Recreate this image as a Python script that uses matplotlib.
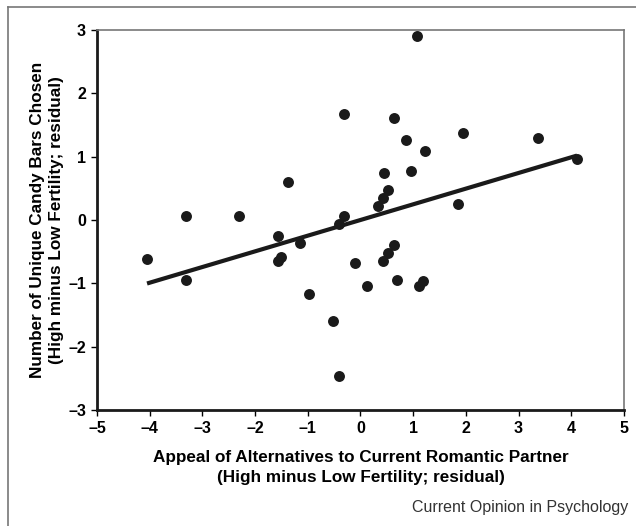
import numpy as np
import matplotlib.pyplot as plt
from matplotlib.lines import Line2D

plt.rcParams['font.family'] = ['Liberation Sans', 'DejaVu Sans']

# appeal of alternatives (x) vs unique candy bars (y), residuals
appeal = [-4.05, -3.31, -3.31, -2.31, -1.56, -1.37, -1.56, -1.51, -1.14, -0.98,
          -0.52, -0.41, -0.40, -0.31, -0.31, -0.10, 0.12, 0.33, 0.43, 0.44,
          0.53, 0.43, 0.53, 0.64, 0.64, 0.70, 0.86, 0.96, 1.07, 1.12,
          1.18, 1.22, 1.86, 1.95, 3.37, 4.11]
candy = [-0.62, 0.06, -0.94, 0.06, -0.26, 0.60, -0.64, -0.59, -0.37, -1.17,
         -1.59, -2.46, -0.07, 0.06, 1.67, -0.68, -1.04, 0.22, 0.35, 0.74,
         0.48, -0.65, -0.52, -0.39, 1.61, -0.94, 1.26, 0.77, 2.91, -1.04,
         -0.97, 1.09, 0.26, 1.38, 1.29, 0.97]

# regression line
fit_x = [-4.05, 4.11]
fit_slope = 0.2475
fit_icpt = 0.0

fig = plt.figure(figsize=(6.36, 5.26), dpi=100)
ax = fig.add_axes([0.1525, 0.2205, 0.8285, 0.7225])

ax.scatter(appeal, candy, s=62, color='#1a1a1a', zorder=3, linewidths=0)
fx = np.array(fit_x)
ax.plot(fx, fit_icpt + fit_slope * fx, color='#1a1a1a', lw=3, solid_capstyle='butt', zorder=2)

ax.set_xlim(-5, 5)
ax.set_ylim(-3, 3)
ax.set_xticks(range(-5, 6))
ax.set_yticks(range(-3, 4))
ax.set_xticklabels([str(v).replace('-', '\u2013') for v in range(-5, 6)])
ax.set_yticklabels([str(v).replace('-', '\u2013') for v in range(-3, 4)])
ax.tick_params(direction='out', length=4, width=1, labelsize=11.5, pad=4)
for lab in ax.get_xticklabels() + ax.get_yticklabels():
    lab.set_fontweight('bold')

for side in ['left', 'bottom']:
    ax.spines[side].set_linewidth(2)
    ax.spines[side].set_color('#1a1a1a')
for side in ['top', 'right']:
    ax.spines[side].set_linewidth(1.2)
    ax.spines[side].set_color('#777777')

ax.set_xlabel('Appeal of Alternatives to Current Romantic Partner\n(High minus Low Fertility; residual)',
              fontsize=12.3, fontweight='bold', labelpad=10, linespacing=1.45)
ax.set_ylabel('Number of Unique Candy Bars Chosen\n(High minus Low Fertility; residual)',
              fontsize=12.3, fontweight='bold', labelpad=3, linespacing=1.35)

fig.text(0.988, 0.036, 'Current Opinion in Psychology', ha='right', va='center',
         fontsize=11.5, color='#333333')

# outer frame
fig.add_artist(Line2D([8/636, 8/636], [0, 1 - 7/526], transform=fig.transFigure,
                      color='#777777', lw=1.2))
fig.add_artist(Line2D([8/636, 1], [1 - 7/526, 1 - 7/526], transform=fig.transFigure,
                      color='#777777', lw=1.2))

fig.savefig('out.png', dpi=100)
